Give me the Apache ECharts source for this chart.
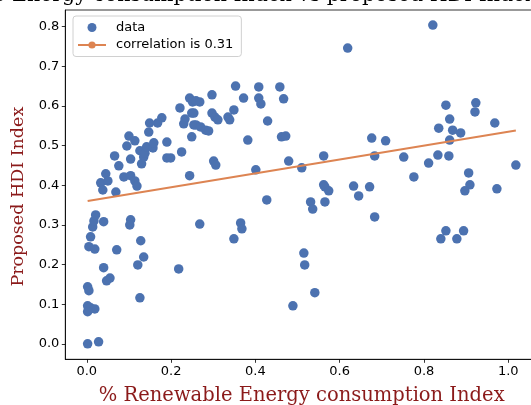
<!DOCTYPE html>
<html>
<head>
<meta charset="utf-8">
<script src="https://cdn.jsdelivr.net/npm/echarts@6/dist/echarts.min.js"></script>
<style>
  html, body { margin: 0; padding: 0; background: #ffffff; }
  #chart { width: 531px; height: 405px; }
</style>
</head>
<body>
<div id="chart"></div>
<script>
// Renewable energy share index per country (x) and proposed HDI index (y)
const renewIdx = [
  0.002, 0.028, 0.002, 0.009, 0.019, 0.002, 0.002, 0.005, 0.005, 0.019,
  0.009, 0.014, 0.017, 0.021, 0.040, 0.040, 0.055, 0.047, 0.071, 0.104,
  0.102, 0.128, 0.135, 0.121, 0.126, 0.218, 0.268, 0.349, 0.365, 0.368,
  0.045, 0.033, 0.050, 0.038, 0.069, 0.066, 0.076, 0.088, 0.104, 0.114,
  0.119, 0.104, 0.135, 0.130, 0.126, 0.138, 0.142, 0.157, 0.159, 0.100,
  0.095, 0.114, 0.190, 0.190, 0.199, 0.225, 0.178, 0.168, 0.149, 0.147,
  0.221, 0.244, 0.251, 0.249, 0.233, 0.230, 0.254, 0.249, 0.244,
  0.353, 0.408, 0.458, 0.297, 0.372, 0.408, 0.413, 0.467, 0.259, 0.268,
  0.254, 0.297, 0.304, 0.311, 0.349, 0.335, 0.339, 0.259, 0.270, 0.282,
  0.289, 0.429, 0.382, 0.462, 0.472, 0.301, 0.306, 0.479, 0.401, 0.510,
  0.562, 0.562, 0.565, 0.574, 0.427, 0.531, 0.536, 0.565, 0.489, 0.541,
  0.515, 0.517,
  0.619, 0.821, 0.852, 0.923, 0.921, 0.861, 0.835, 0.868, 0.887, 0.861,
  0.968, 0.676, 0.709, 0.683, 0.752, 0.833, 0.859, 0.811, 0.776, 1.018,
  0.906, 0.909, 0.897, 0.973, 0.633, 0.645, 0.671, 0.683, 0.852, 0.840,
  0.894, 0.878
];
const hdiIdx = [
  0.000, 0.005, 0.096, 0.091, 0.088, 0.081, 0.144, 0.134, 0.245, 0.239,
  0.270, 0.295, 0.310, 0.325, 0.308, 0.192, 0.166, 0.159, 0.237, 0.313,
  0.300, 0.260, 0.219, 0.199, 0.116, 0.189, 0.302, 0.265, 0.305, 0.290,
  0.429, 0.406, 0.411, 0.388, 0.383, 0.474, 0.449, 0.421, 0.424, 0.411,
  0.398, 0.466, 0.471, 0.454, 0.487, 0.481, 0.497, 0.494, 0.507, 0.524,
  0.499, 0.512, 0.509, 0.469, 0.469, 0.484, 0.570, 0.557, 0.557, 0.534,
  0.595, 0.620, 0.610, 0.582, 0.567, 0.555, 0.552, 0.522, 0.424,
  0.650, 0.648, 0.648, 0.628, 0.620, 0.620, 0.605, 0.618, 0.613, 0.610,
  0.582, 0.582, 0.572, 0.565, 0.590, 0.572, 0.565, 0.552, 0.547, 0.539,
  0.537, 0.562, 0.514, 0.522, 0.524, 0.461, 0.451, 0.461, 0.439, 0.444,
  0.474, 0.401, 0.396, 0.386, 0.363, 0.358, 0.340, 0.358, 0.096, 0.129,
  0.229, 0.199,
  0.746, 0.804, 0.602, 0.608, 0.585, 0.567, 0.544, 0.539, 0.532, 0.514,
  0.557, 0.519, 0.512, 0.474, 0.471, 0.476, 0.474, 0.456, 0.421, 0.451,
  0.431, 0.401, 0.386, 0.391, 0.398, 0.373, 0.396, 0.320, 0.285, 0.265,
  0.285, 0.265
];

// End points of the fitted trend line
const fitX = [0.002, 1.018];
const fitY = [0.360, 0.538];

const xTicks = [0.0, 0.2, 0.4, 0.6, 0.8, 1.0];
const yTicks = [0.0, 0.1, 0.2, 0.3, 0.4, 0.5, 0.6, 0.7, 0.8];

const seriesNames = ['data', 'correlation is 0.31'];
const titleText = '% Renewable Energy consumption Index vs proposed HDI Index';
const xLabel = '% Renewable Energy consumption Index';
const yLabel = 'Proposed HDI Index';

const SANS = 'DejaVu Sans';
const SERIF = 'DejaVu Serif';
const TITLE_SIZE = 20.5;
const LABEL_SIZE = 19.5;

// place the title so that the word "Energy" starts near the left edge
const measureCtx = document.createElement('canvas').getContext('2d');
measureCtx.font = TITLE_SIZE + 'px "' + SERIF + '"';
const titleLead = measureCtx.measureText('% Renewable ').width;

const scatterData = renewIdx.map((x, i) => [x, hdiIdx[i]]);
const fitData = fitX.map((x, i) => [x, fitY[i]]);

const chart = echarts.init(document.getElementById('chart'), null, { renderer: 'canvas' });

chart.setOption({
  animation: false,
  backgroundColor: '#ffffff',
  graphic: [{
    type: 'text',
    x: 12 - titleLead,
    y: -4.5,
    style: {
      text: titleText,
      font: TITLE_SIZE + 'px "' + SERIF + '"',
      fill: '#000000',
      align: 'left',
      verticalAlign: 'middle'
    }
  }],
  grid: {
    left: 65.3,
    top: 10,
    bottom: 45.7,
    right: -7.2,
    containLabel: false,
    outerBoundsMode: 'none',
    show: true,
    borderColor: '#000000',
    borderWidth: 0.8,
    backgroundColor: 'transparent'
  },
  legend: {
    orient: 'vertical',
    left: 73,
    top: 16,
    padding: [5, 8, 5, 4],
    itemGap: 4.5,
    itemWidth: 28,
    itemHeight: 9,
    borderColor: '#d0d0d0',
    borderWidth: 1,
    borderRadius: 3,
    backgroundColor: 'rgba(255,255,255,0.8)',
    textStyle: { fontFamily: SANS, fontSize: 13, color: '#000000', padding: [0, 0, 0, 5] },
    data: [
      { name: seriesNames[0], icon: 'circle' },
      { name: seriesNames[1] }
    ]
  },
  xAxis: {
    type: 'value',
    min: -0.051,
    max: 1.071,
    name: xLabel,
    nameLocation: 'middle',
    nameGap: 27,
    nameTextStyle: { fontFamily: SERIF, fontSize: LABEL_SIZE, color: '#8b1a1a' },
    axisLine: { show: true, onZero: false, lineStyle: { color: '#000000', width: 0.8 } },
    axisTick: { show: true, length: 3.5, customValues: xTicks, lineStyle: { color: '#000000', width: 0.8 } },
    axisLabel: {
      customValues: xTicks,
      margin: 6,
      fontFamily: SANS, fontSize: 13, color: '#000000',
      formatter: v => v.toFixed(1)
    },
    splitLine: { show: false }
  },
  yAxis: {
    type: 'value',
    min: -0.039,
    max: 0.842,
    name: yLabel,
    nameLocation: 'middle',
    nameRotate: 90,
    nameGap: 33,
    nameTextStyle: { fontFamily: SERIF, fontSize: 17.5, color: '#8b1a1a', padding: [0, 24, 0, 0] },
    axisLine: { show: true, onZero: false, lineStyle: { color: '#000000', width: 0.8 } },
    axisTick: { show: true, length: 3.5, customValues: yTicks, lineStyle: { color: '#000000', width: 0.8 } },
    axisLabel: {
      customValues: yTicks,
      margin: 6,
      fontFamily: SANS, fontSize: 13, color: '#000000',
      formatter: v => v.toFixed(1)
    },
    splitLine: { show: false }
  },
  series: [
    {
      name: seriesNames[0],
      type: 'scatter',
      data: scatterData,
      symbol: 'circle',
      symbolSize: 9.5,
      itemStyle: { color: '#4c72b0', opacity: 1 },
      emphasis: { disabled: true }
    },
    {
      name: seriesNames[1],
      type: 'line',
      data: fitData,
      symbol: 'none',
      lineStyle: { color: '#dd8452', width: 2 },
      itemStyle: { color: '#dd8452' },
      emphasis: { disabled: true }
    }
  ]
});
</script>
</body>
</html>
